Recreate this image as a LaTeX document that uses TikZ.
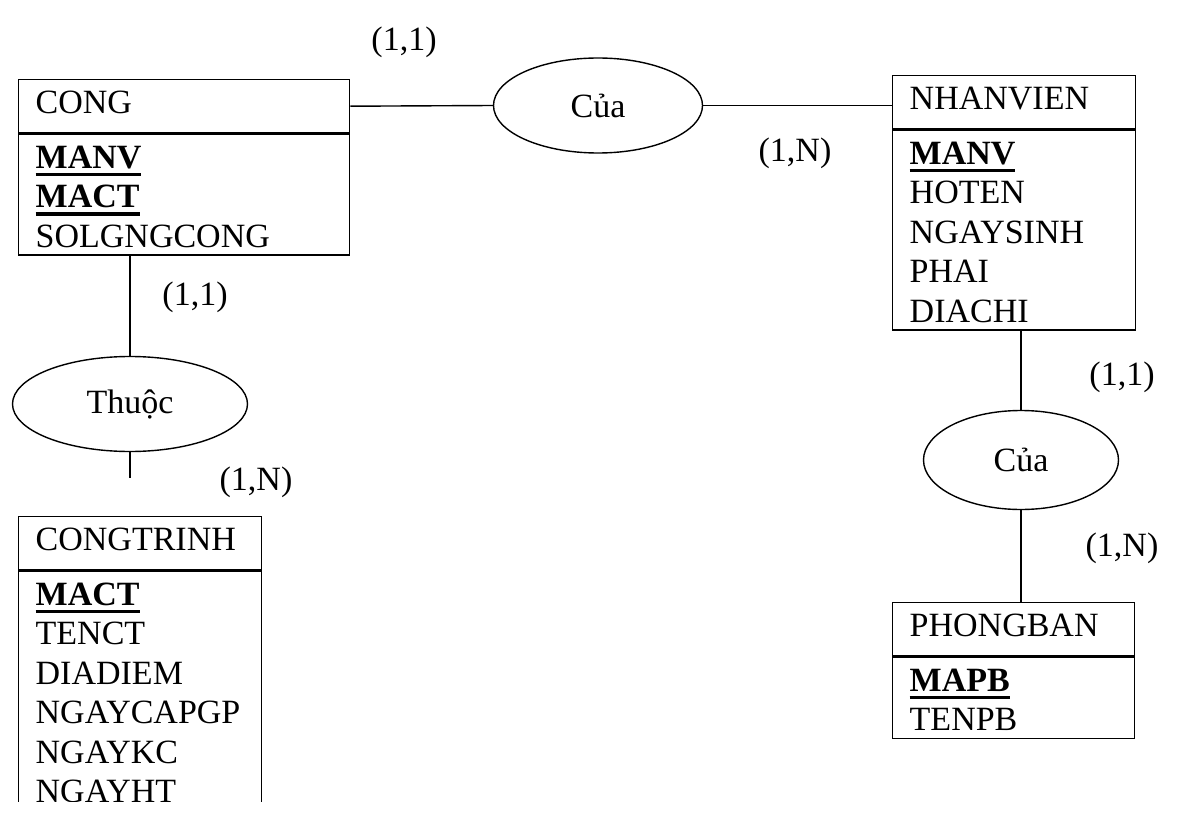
\documentclass[tikz,border=0pt]{standalone}
\usepackage{fontspec}
\setmainfont{Liberation Serif}
\usepackage{tikz}
\usetikzlibrary{shapes.geometric, positioning}
\newcommand{\erfont}{\fontsize{34}{39.5}\selectfont}
\newcommand{\headstrut}{\rule[-19pt]{0pt}{53pt}}
\newcommand{\topstrut}{\rule{0pt}{34pt}}
\newcommand{\botstrut}{\rule[-8pt]{0pt}{8pt}}
\newcommand{\pkey}[1]{\leavevmode\setbox0=\hbox{\textbf{#1}}\rlap{\rule[-8pt]{\wd0}{3.2pt}}\box0}

\begin{document}
\begin{tikzpicture}[x=1pt, y=-1pt, line width=1.4pt,
    entitybox/.style={draw, anchor=north west, inner xsep=17pt, inner ysep=0pt,
      font=\erfont, align=left, text width=209pt},
    relation/.style={draw, ellipse, inner sep=0pt, font=\erfont},
    cardlbl/.style={inner sep=0pt, font=\erfont}]
    \useasboundingbox (0,0) rectangle (1188,813);
    % CONG: x = 18 to 349
    \node[entitybox, text width=297pt] (conghead) at (18,79) {\headstrut CONG};
    \node[entitybox, text width=297pt] (congbody) at (conghead.south west)
      {\topstrut\pkey{MANV}\\ \pkey{MACT}\\ SOLGNGCONG\botstrut};
    % NHANVIEN: x = 892 to 1135
    \node[entitybox] (nvhead) at (892,75) {\headstrut NHANVIEN};
    \node[entitybox] (nvbody) at (nvhead.south west)
      {\topstrut\pkey{MANV}\\ HOTEN\\ NGAYSINH\\ PHAI\\ DIACHI\botstrut};
    % CONGTRINH: cut off at the bottom
    \node[entitybox] (cthead) at (18,516) {\headstrut CONGTRINH};
    \begin{scope}
      \clip (0,0) rectangle (1188,801);
      \node[entitybox] (ctbody) at (cthead.south west)
        {\topstrut\pkey{MACT}\\ TENCT\\ DIADIEM\\ NGAYCAPGP\\ NGAYKC\\ NGAYHT\botstrut};
    \end{scope}
    % PHONGBAN
    \node[entitybox, text width=208pt] (pbhead) at (892,602) {\headstrut PHONGBAN};
    \node[entitybox, text width=208pt] (pbbody) at (pbhead.south west)
      {\topstrut\pkey{MAPB}\\ TENPB\botstrut};
    % Relations
    \node[relation, minimum width=209pt, minimum height=95pt] (cua1) at (598,105.5) {Của};
    \node[relation, minimum width=235pt, minimum height=95pt] (thuoc) at (130,404) {Thuộc};
    \node[relation, minimum width=195pt, minimum height=99pt] (cua2) at (1021,460) {Của};
    \coordinate (thuocend) at (130,478);
    % Connectors
    \draw (conghead.east) -- (cua1.west);
    \draw (cua1.east) -- (cua1.east -| nvhead.west);
    \draw (thuoc.north |- congbody.south) -- (thuoc.north);
    \draw (thuoc.south) -- (thuocend);
    \draw (cua2.north |- nvbody.south) -- (cua2.north);
    \draw (cua2.south) -- (cua2.south |- pbhead.north);
    % Cardinalities
    \node[cardlbl] (c1) at (404,42) {(1,1)};
    \node[cardlbl] (c2) at (795,153) {(1,N)};
    \node[cardlbl] (c3) at (195,297) {(1,1)};
    \node[cardlbl] (c4) at (256,482) {(1,N)};
    \node[cardlbl] (c5) at (1122,377) {(1,1)};
    \node[cardlbl] (c6) at (1122,548) {(1,N)};
  \end{tikzpicture}
\end{document}
